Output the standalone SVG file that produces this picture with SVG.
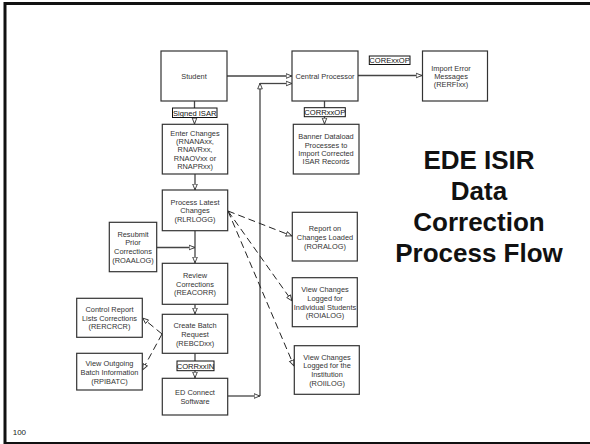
<svg xmlns="http://www.w3.org/2000/svg" width="590" height="444" viewBox="0 0 590 444">
<style>
.box{fill:#fff;stroke:#333;stroke-width:1.2}
.lbl{fill:#fff;stroke:#111;stroke-width:1}
.t{font-family:"Liberation Sans",Arial,sans-serif;font-size:7.4px;fill:#333;text-anchor:middle}
.lt{font-family:"Liberation Sans",Arial,sans-serif;font-size:7.6px;fill:#111;text-anchor:middle}
.c{fill:none;stroke:#444;stroke-width:1.3}
.d{fill:none;stroke:#222;stroke-width:1;stroke-dasharray:7,4}
.title{font-family:"Liberation Sans",Arial,sans-serif;font-size:26px;font-weight:bold;fill:#111;text-anchor:middle}
</style>
<defs>
<marker id="ah" markerUnits="userSpaceOnUse" markerWidth="7" markerHeight="7" viewBox="0 0 7 7" refX="6.5" refY="3.5" orient="auto">
<path d="M0.6,1.2 L6.3,3.5 L0.6,5.8 Z" fill="#fff" stroke="#333" stroke-width="0.9"/>
</marker>
</defs>
<rect x="0" y="0" width="590" height="444" fill="#fff"/>
<rect x="5" y="3.5" width="600" height="440" fill="none" stroke="#111" stroke-width="3"/>
<text x="12.7" y="435" font-family="Liberation Sans,Arial,sans-serif" font-size="8" fill="#222">100</text>

<g id="connectors">
<line class="c" x1="194.5" y1="101" x2="194.5" y2="124" marker-end="url(#ah)"/>
<line class="c" x1="324.5" y1="101" x2="324.5" y2="124" marker-end="url(#ah)"/>
<line class="c" x1="195" y1="353" x2="195" y2="378" marker-end="url(#ah)"/>
<line class="c" x1="195" y1="174" x2="195" y2="190" marker-end="url(#ah)"/>
<line class="c" x1="195" y1="231" x2="195" y2="263" marker-end="url(#ah)"/>
<line class="c" x1="157" y1="247.5" x2="195" y2="247.5" marker-end="url(#ah)"/>
<line class="c" x1="195" y1="304" x2="195" y2="314" marker-end="url(#ah)"/>
<line class="c" x1="227" y1="76" x2="292" y2="76" marker-end="url(#ah)"/>
<line class="c" x1="260" y1="396" x2="260" y2="83" marker-end="url(#ah)"/>
<line class="c" x1="260" y1="83.5" x2="292" y2="83.5" marker-end="url(#ah)"/>
<line class="c" x1="228" y1="396" x2="260" y2="396" marker-end="url(#ah)"/>
<line class="c" x1="358" y1="75.5" x2="422" y2="75.5" marker-end="url(#ah)"/>
<line class="d" x1="228" y1="211" x2="292" y2="236" marker-end="url(#ah)"/>
<line class="d" x1="228" y1="211" x2="292" y2="301" marker-end="url(#ah)"/>
<line class="d" x1="228" y1="211" x2="294" y2="366" marker-end="url(#ah)"/>
<line class="d" x1="162" y1="334" x2="142.5" y2="318" marker-end="url(#ah)"/>
<line class="d" x1="162" y1="334" x2="142.5" y2="370" marker-end="url(#ah)"/>
</g>

<g id="student"><rect class="box" x="161" y="51" width="66" height="50"/><text class="t" x="194" y="78.6">Student</text></g>
<g id="signed-isar"><rect class="lbl" x="172.5" y="108" width="44.5" height="9.5"/><text class="lt" x="194.7" y="115.5">Signed ISAR</text></g>
<g id="enter-changes"><rect class="box" x="162.3" y="124.3" width="65.4" height="49.7"/>
<text class="t" x="195" y="135.9">Enter Changes</text><text class="t" x="195" y="143.6">(RNANAxx,</text><text class="t" x="195" y="151.9">RNAVRxx,</text><text class="t" x="195" y="160.9">RNAOVxx or</text><text class="t" x="195" y="169.3">RNAPRxx)</text></g>
<g id="process-latest"><rect class="box" x="162.3" y="190" width="65.4" height="40.7"/>
<text class="t" x="195" y="204.9">Process Latest</text><text class="t" x="195" y="213.3">Changes</text><text class="t" x="195" y="221.9">(RLRLOGG)</text></g>
<g id="resubmit"><rect class="box" x="109.3" y="222.3" width="47.4" height="49.4"/>
<text class="t" x="133" y="236.6">Resubmit</text><text class="t" x="133" y="245.3">Prior</text><text class="t" x="133" y="253.6">Corrections</text><text class="t" x="133" y="262.6">(ROAALOG)</text></g>
<g id="review"><rect class="box" x="162.3" y="263.3" width="65.4" height="41"/>
<text class="t" x="195" y="277.6">Review</text><text class="t" x="195" y="286.6">Corrections</text><text class="t" x="195" y="295.3">(REACORR)</text></g>
<g id="create-batch"><rect class="box" x="162.3" y="314.3" width="65.4" height="39"/>
<text class="t" x="195" y="327.6">Create Batch</text><text class="t" x="195" y="336.6">Request</text><text class="t" x="195" y="345.9">(REBCDxx)</text></g>
<g id="corrxxin"><rect class="lbl" x="177" y="361" width="37" height="9.7"/><text class="lt" x="195.5" y="368.6">CORRxxIN</text></g>
<g id="ed-connect"><rect class="box" x="162.3" y="378.3" width="65.4" height="36.7"/>
<text class="t" x="195" y="394.9">ED Connect</text><text class="t" x="195" y="403.6">Software</text></g>
<g id="control-report"><rect class="box" x="76.7" y="298.3" width="65.6" height="39"/>
<text class="t" x="109.5" y="311.9">Control Report</text><text class="t" x="109.5" y="320.9">Lists Corrections</text><text class="t" x="109.5" y="329.3">(RERCRCR)</text></g>
<g id="view-outgoing"><rect class="box" x="76.7" y="353.3" width="65.6" height="36.7"/>
<text class="t" x="109.5" y="365.9">View Outgoing</text><text class="t" x="109.5" y="374.9">Batch Information</text><text class="t" x="109.5" y="383.6">(RPIBATC)</text></g>
<g id="central-processor"><rect class="box" x="292" y="51" width="66" height="50"/><text class="t" x="325" y="78.6">Central Processor</text></g>
<g id="corexxop"><rect class="lbl" x="369.3" y="56" width="40.7" height="8.5"/><text class="lt" x="389.6" y="62.9">CORExxOP</text></g>
<g id="import-error"><rect class="box" x="422.5" y="51" width="65" height="50"/>
<text class="t" x="451" y="70.9">Import Error</text><text class="t" x="451" y="78.6">Messages</text><text class="t" x="451" y="86.9">(RERFIxx)</text></g>
<g id="corrxxop"><rect class="lbl" x="304.3" y="107.7" width="41" height="9"/><text class="lt" x="324.8" y="114.9">CORRxxOP</text></g>
<g id="banner"><rect class="box" x="293.3" y="124.3" width="65.7" height="49.7"/>
<text class="t" x="326" y="139.3">Banner Dataload</text><text class="t" x="326" y="147.6">Processes to</text><text class="t" x="326" y="155.9">Import Corrected</text><text class="t" x="326" y="164.3">ISAR Records</text></g>
<g id="report-loaded"><rect class="box" x="292.3" y="212.3" width="65" height="48.7"/>
<text class="t" x="325" y="230.9">Report on</text><text class="t" x="325" y="239.9">Changes Loaded</text><text class="t" x="325" y="249.3">(RORALOG)</text></g>
<g id="view-individual"><rect class="box" x="292.3" y="277.7" width="65" height="49"/>
<text class="t" x="325" y="291.9">View Changes</text><text class="t" x="325" y="300.9">Logged for</text><text class="t" x="325" y="309.9">Individual Students</text><text class="t" x="325" y="318.3">(ROIALOG)</text></g>
<g id="view-institution"><rect class="box" x="294.3" y="345.7" width="65" height="48.6"/>
<text class="t" x="327" y="359.9">View Changes</text><text class="t" x="327" y="368.3">Logged for the</text><text class="t" x="327" y="376.9">Institution</text><text class="t" x="327" y="385.9">(ROIILOG)</text></g>

<g id="title">
<text class="title" x="479" y="168.5">EDE ISIR</text>
<text class="title" x="479" y="199.5">Data</text>
<text class="title" x="479" y="230.5">Correction</text>
<text class="title" x="479" y="261.5">Process Flow</text>
</g>
</svg>
